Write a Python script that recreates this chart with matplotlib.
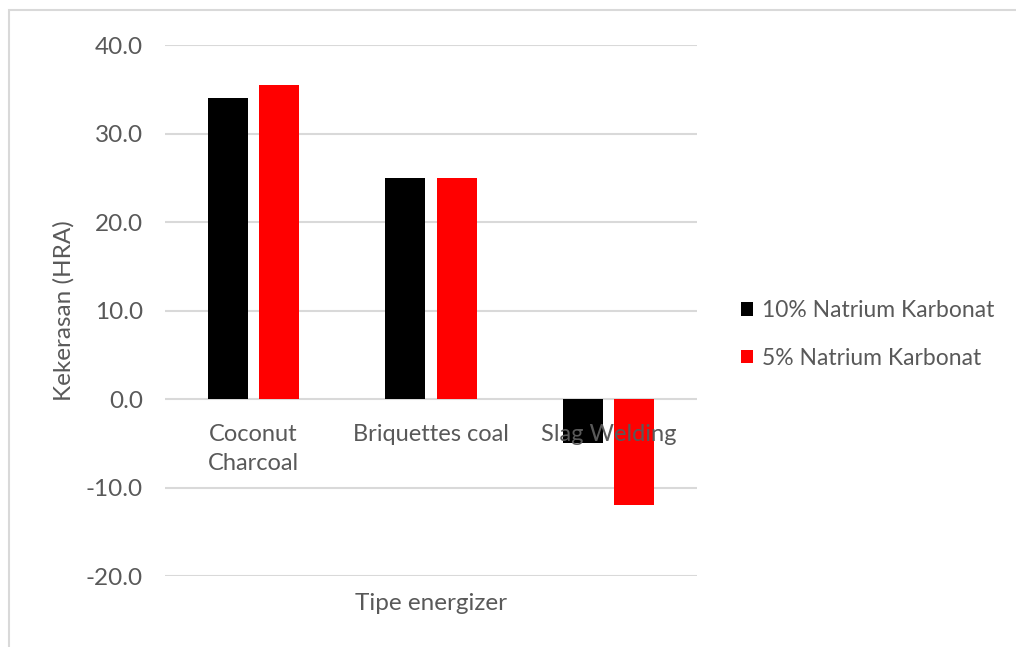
import matplotlib.pyplot as plt
from matplotlib.patches import Rectangle
import numpy as np

categories = ["Coconut\nCharcoal", "Briquettes coal", "Slag Welding"]
series_names = ["10% Natrium Karbonat", "5% Natrium Karbonat"]
natrium_10 = [34.0, 25.0, -5.0]
natrium_5 = [35.5, 25.0, -12.0]
y_ticks = [-20, -10, 0, 10, 20, 30, 40]

text_color = "#595959"
grid_color = "#d9d9d9"
plt.rcParams['font.family'] = ['Lato', 'DejaVu Sans']

fig = plt.figure(figsize=(10.16, 6.47), dpi=100)
ax = fig.add_axes([0.1624, 0.1097, 0.5236, 0.8207])

x = np.arange(len(categories))
width = 0.225
off = 0.145
ax.bar(x - off, natrium_10, width, color="black", label=series_names[0], zorder=3)
ax.bar(x + off, natrium_5, width, color="#ff0000", label=series_names[1], zorder=3)

ax.set_xlim(-0.5, 2.5)
ax.set_ylim(-20, 40)
ax.set_yticks(y_ticks)
ax.set_yticklabels([f"{v:.1f}" for v in y_ticks])
ax.yaxis.grid(True, color=grid_color, linewidth=1.5, zorder=0)
ax.set_xticks([])
for s in ax.spines.values():
    s.set_visible(False)
ax.tick_params(axis='y', length=0, pad=16, labelsize=17.5, labelcolor=text_color)

# category labels sit just under the zero line
for i, name in enumerate(categories):
    ax.annotate(name, (i, 0), xytext=(0, -18), textcoords="offset points",
                ha="center", va="top", fontsize=17, color=text_color,
                linespacing=1.45, zorder=4)

ax.set_xlabel("Tipe energizer", fontsize=17.5, color=text_color, labelpad=12)
ax.set_ylabel("Kekerasan (HRA)", fontsize=17.5, color=text_color, labelpad=8)

leg = ax.legend(loc="center left", bbox_to_anchor=(1.082, 0.455), frameon=False,
                fontsize=16.5, handlelength=0.55, handleheight=0.55,
                handletextpad=0.4, labelspacing=1.15, borderpad=0,
                borderaxespad=0)
for t in leg.get_texts():
    t.set_color(text_color)

# outer chart border
fig.patches.append(Rectangle((9 / 1016, -0.01), 1.02, 1 - 10 / 647 + 0.01,
                             transform=fig.transFigure, fill=False,
                             edgecolor=grid_color, linewidth=1.5))

fig.savefig("out.png", dpi=100)
